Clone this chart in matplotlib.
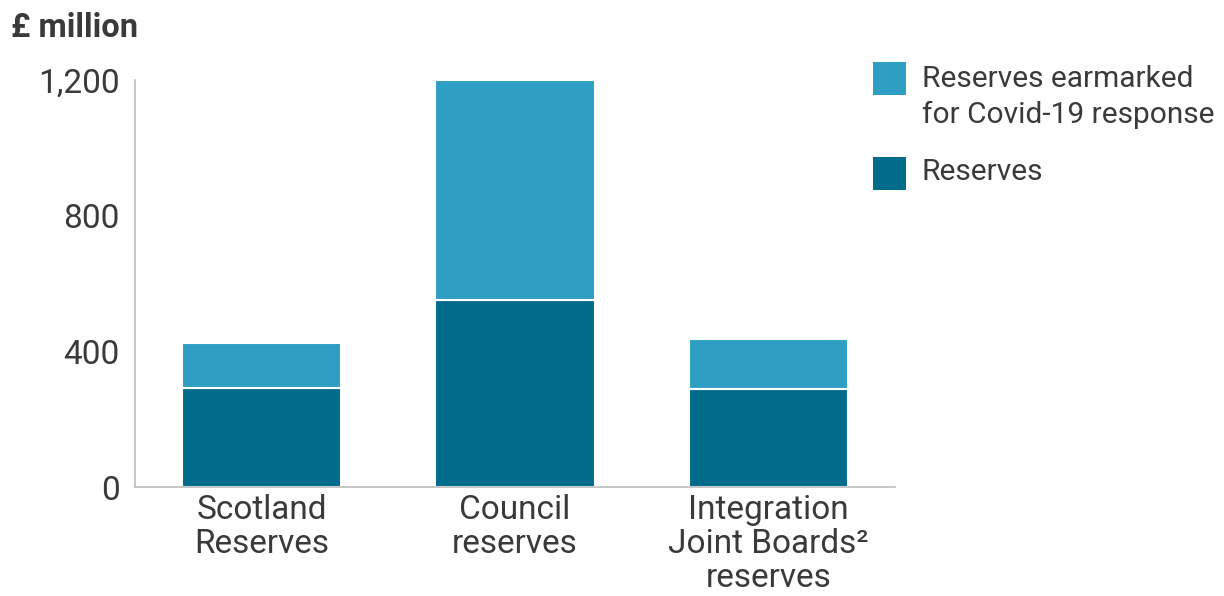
import matplotlib
matplotlib.use("Agg")
import matplotlib.pyplot as plt
from matplotlib.patches import Rectangle

# ── Data (£ million) ─────────────────────────────────────────────────────────
categories = ["Scotland\nReserves", "Council\nreserves", "Integration\nJoint Boards\u00b2\nreserves"]
reserves = [293, 551, 290]
covid_earmarked = [132, 649, 146]
y_ticks = [0, 400, 800, 1200]
y_tick_labels = ["0", "400", "800", "1,200"]
legend_labels = [["Reserves earmarked", "for Covid-19 response"], ["Reserves"]]

DARK = "#016b8c"
LIGHT = "#2e9fc3"
TEXT = "#3a3a3a"
AXIS = "#bdbdbd"

plt.rcParams["font.family"] = ["Roboto", "DejaVu Sans"]

W, H = 1224, 596
fig = plt.figure(figsize=(W / 100, H / 100), dpi=100)
ax = fig.add_axes([135 / W, 1 - 487 / H, 760 / W, 407 / H])

x = range(len(categories))
ax.bar(x, reserves, width=0.63, color=DARK, edgecolor="white", linewidth=1.5)
ax.bar(x, covid_earmarked, bottom=reserves, width=0.63, color=LIGHT,
       edgecolor="white", linewidth=1.5)

ax.set_xlim(-0.5, 2.5)
ax.set_ylim(0, 1200)
ax.set_yticks(y_ticks)
ax.set_yticklabels(y_tick_labels)
ax.set_xticks(list(x))
ax.set_xticklabels(categories, linespacing=1.08)
ax.tick_params(axis="both", length=0, labelsize=24, labelcolor=TEXT)
ax.tick_params(axis="y", pad=11)
ax.tick_params(axis="x", pad=5)

for side in ["top", "right"]:
    ax.spines[side].set_visible(False)
for side in ["left", "bottom"]:
    ax.spines[side].set_color(AXIS)
    ax.spines[side].set_linewidth(1.2)

# ── Unit label ───────────────────────────────────────────────────────────────
fig.text(11 / W, 1 - 36.7 / H, "£ million", fontsize=23.5, fontweight="bold",
         color=TEXT, va="baseline", ha="left")

# ── Legend (swatch aligned with first line of its label) ─────────────────────
swatch_tops = [62, 157]
line_baselines = [[86.7, 123], [180]]
for colour, top, lines, bases in zip([LIGHT, DARK], swatch_tops, legend_labels, line_baselines):
    fig.patches.append(Rectangle((873 / W, 1 - (top + 33) / H), 33 / W, 33 / H,
                                 transform=fig.transFigure, facecolor=colour,
                                 edgecolor="none"))
    for line, base in zip(lines, bases):
        fig.text(922 / W, 1 - base / H, line, fontsize=21.5, color=TEXT,
                 va="baseline", ha="left")

fig.savefig("out.png", dpi=100)
